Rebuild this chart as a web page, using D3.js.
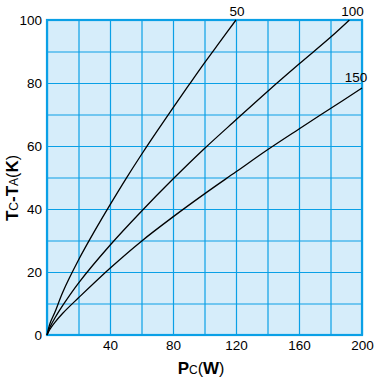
<!DOCTYPE html>
<html><head><meta charset="utf-8">
<script src="https://cdn.jsdelivr.net/npm/d3@7"></script>
<style>
html,body{margin:0;padding:0;background:#fff;}
svg text{font-family:"Liberation Sans",Arial,Helvetica,sans-serif;fill:#000;}
</style></head>
<body><svg id="c" width="386" height="380"></svg>
<script>
// Data
const seriesNames = ["50", "100", "150"];
const p50 = [0, 2, 5, 10, 20, 30, 40, 50, 60, 70, 80, 90, 100, 110, 120];
const t50 = [0, 3.8, 7.2, 13.6, 23.8, 32.8, 41.3, 49.5, 57.3, 64.8, 72.1, 79.3, 86.4, 93.2, 100];
const p100 = [0, 2, 5, 10, 20, 40, 60, 80, 100, 120, 140, 160, 180, 192];
const t100 = [0, 2.6, 5.4, 9.4, 16.5, 28.5, 39.3, 49.5, 59.2, 68.3, 77.3, 86, 94.5, 100];
const p150 = [0, 2, 5, 10, 20, 40, 60, 80, 100, 120, 140, 160, 180, 200];
const t150 = [0, 1.9, 4, 6.9, 11.8, 21.2, 29.8, 37.5, 44.8, 51.8, 58.8, 65.4, 71.9, 78.4];
const xGridTicks = [0, 20, 40, 60, 80, 100, 120, 140, 160, 180, 200];
const xLabelTicks = [40, 80, 120, 160, 200];
const yGridTicks = [0, 10, 20, 30, 40, 50, 60, 70, 80, 90, 100];
const yLabelTicks = [0, 20, 40, 60, 80, 100];

const svg = d3.select("#c");
const L = 47, R = 362, T = 20, B = 335;
const x = d3.scaleLinear().domain([0, 200]).range([L, R]);
const y = d3.scaleLinear().domain([0, 100]).range([B, T]);
const grid = "#0aa0e6";

svg.append("rect").attr("x", L).attr("y", T).attr("width", R - L).attr("height", B - T).attr("fill", "#d6edfa");

const gx = svg.append("g").attr("transform", `translate(0,${B})`)
  .call(d3.axisBottom(x).tickValues(xGridTicks).tickSize(-(B - T)).tickFormat(""));
gx.select(".domain").remove();
gx.selectAll("line").attr("stroke", grid).attr("stroke-width", 1.2);

const gy = svg.append("g").attr("transform", `translate(${L},0)`)
  .call(d3.axisLeft(y).tickValues(yGridTicks).tickSize(-(R - L)).tickFormat(""));
gy.select(".domain").remove();
gy.selectAll("line").attr("stroke", grid).attr("stroke-width", 1.2);

svg.append("rect").attr("x", L).attr("y", T).attr("width", R - L).attr("height", B - T)
  .attr("fill", "none").attr("stroke", grid).attr("stroke-width", 2.2);

const xl = svg.append("g").attr("transform", `translate(0,${B})`)
  .call(d3.axisBottom(x).tickValues(xLabelTicks).tickSize(0).tickPadding(0));
xl.select(".domain").remove();
xl.selectAll("text").attr("y", 15).attr("dy", 0).style("font-size", "13.5px");

const yl = svg.append("g").attr("transform", `translate(${L},0)`)
  .call(d3.axisLeft(y).tickValues(yLabelTicks).tickSize(0).tickPadding(5));
yl.select(".domain").remove();
yl.selectAll("text").attr("dy", "0.36em").style("font-size", "13.5px");

const data = [
  {name: seriesNames[0], p: p50, t: t50, dx: 1, dy: -4},
  {name: seriesNames[1], p: p100, t: t100, dx: 3, dy: -4},
  {name: seriesNames[2], p: p150, t: t150, dx: -6, dy: -6}
];
const line = d3.line().x(d => x(d[0])).y(d => y(d[1])).curve(d3.curveCatmullRom.alpha(0.5));
data.forEach(s => {
  const pts = s.p.map((v, i) => [v, s.t[i]]);
  svg.append("path").datum(pts).attr("d", line).attr("fill", "none")
    .attr("stroke", "#000").attr("stroke-width", 1.3);
  const last = pts[pts.length - 1];
  svg.append("text").attr("x", x(last[0]) + s.dx).attr("y", y(last[1]) + s.dy)
    .attr("text-anchor", "middle").style("font-size", "13.5px").text(s.name);
});

const xt = svg.append("text").attr("x", 201).attr("y", 374).attr("text-anchor", "middle");
xt.append("tspan").style("font-size", "17px").style("font-weight", "bold").text("P");
xt.append("tspan").style("font-size", "12px").text("C");
xt.append("tspan").style("font-size", "16px").text("(");
xt.append("tspan").style("font-size", "17px").style("font-weight", "bold").text("W");
xt.append("tspan").style("font-size", "16px").text(")");

const yt = svg.append("text").attr("transform", "translate(18,188) rotate(-90)").attr("text-anchor", "middle");
yt.append("tspan").style("font-size", "17px").style("font-weight", "bold").text("T");
yt.append("tspan").style("font-size", "12px").text("C");
yt.append("tspan").style("font-size", "17px").style("font-weight", "bold").text("-T");
yt.append("tspan").style("font-size", "12px").text("A");
yt.append("tspan").style("font-size", "16px").text("(");
yt.append("tspan").style("font-size", "17px").style("font-weight", "bold").text("K");
yt.append("tspan").style("font-size", "16px").text(")");
</script></body></html>
